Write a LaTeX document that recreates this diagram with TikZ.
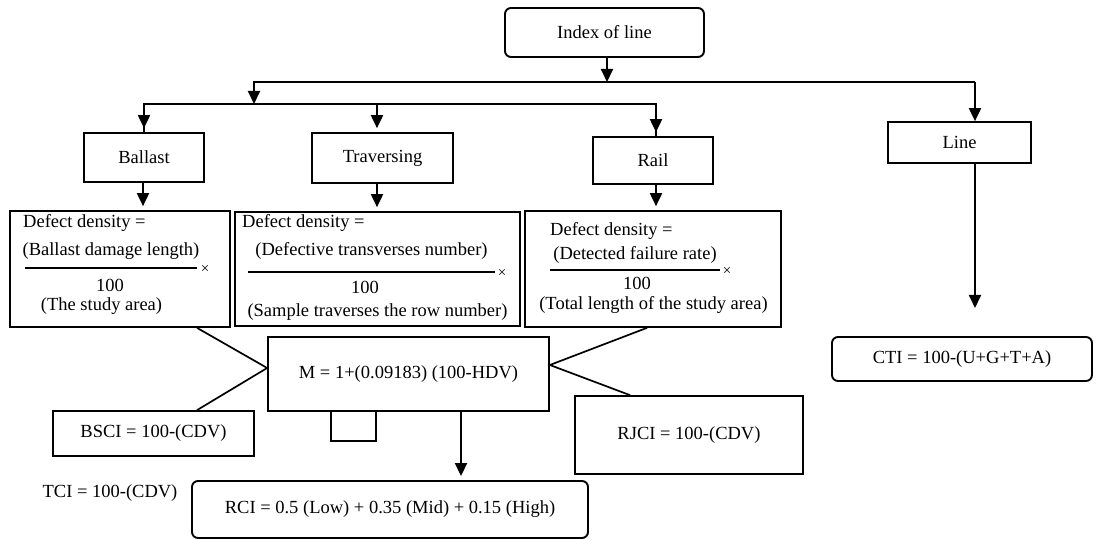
\documentclass[tikz,border=0pt]{standalone}
\usepackage{fontspec}
\setmainfont{Liberation Serif}
\usetikzlibrary{arrows.meta}
\begin{document}
\begin{tikzpicture}[x=1pt,y=-1pt,
  every node/.style={font=\fontsize{18.5}{22}\selectfont, inner sep=0pt},
  box/.style={draw, line width=1.7pt, rectangle},
  rbox/.style={box, line width=1.9pt, rounded corners=6pt},
  arr/.style={line width=1.9pt, -{Triangle[length=13pt,width=12pt]}},
  ln/.style={line width=1.9pt},
  conn/.style={line width=1.7pt},
  times/.style={font=\fontsize{15}{15}\selectfont}
]
\useasboundingbox (0,0) rectangle (1096,540);

% top level
\node[rbox, minimum width=199pt, minimum height=49pt] (idx) at (604.5,32.5) {Index of line};
\node[box, minimum width=120pt, minimum height=49pt] (bal) at (144,157.5) {Ballast};
\node[box, minimum width=141pt, minimum height=50pt] (trav) at (382.5,158) {Traversing};
\node[box, minimum width=120pt, minimum height=47pt] (rail) at (653,160.5) {Rail};
\node[box, minimum width=143pt, minimum height=41pt] (line) at (959.5,142.5) {Line};

\coordinate (j1) at (607,82);
\coordinate (j2) at (254,104);
\coordinate (h2m) at (377,104);
\coordinate (h1r) at (975,82);
\coordinate (ltip) at (975,308);

\draw[arr] (idx.south -| j1) -- (j1);
\draw[ln] (j1) -- (h1r);
\draw[arr] (j1) -| (j2);
\draw[arr] (h1r) -- (line.north -| h1r);
\draw[ln] (j2) -| (bal.north);
\draw[ln] (j2) -| ([xshift=3pt]rail.north);
\draw[arr, shorten >=4pt] (bal.north |- j2) -- (bal.north);
\draw[arr, shorten >=4pt] (h2m) -- (trav.north -| h2m);
\draw[arr, shorten >=4pt] ([xshift=3pt]rail.north |- j2) -- ([xshift=3pt]rail.north);

% defect boxes
\node[box, minimum width=220pt, minimum height=116pt] (box1) at (120,269) {};
\node[box, minimum width=285pt, minimum height=114pt] (box2) at (377.5,269) {};
\node[box, minimum width=256pt, minimum height=116pt] (box3) at (653,269) {};

\draw[arr, shorten >=4pt] ([xshift=-1pt]bal.south) -- ([xshift=-1pt]bal.south |- box1.north);
\draw[arr, shorten >=4pt] (trav.south -| h2m) -- (h2m |- box2.north);
\draw[arr, shorten >=4pt] ([xshift=3pt]rail.south) -- ([xshift=3pt]rail.south |- box3.north);
\draw[arr] (line.south -| ltip) -- (ltip);

% box1 text
\node[anchor=west] (d1a) at (23,223) {Defect density =};
\node (d1n) at (111,251) {(Ballast damage length)};
\draw[conn] (25,268) -- (197,268);
\node[times] (d1x) at (205,269) {×};
\node (d1d) at (110,285) {100};
\node (d1s) at (101.5,306) {(The study area)};

% box2 text
\node[anchor=west] (d2a) at (242,223) {Defect density =};
\node (d2n) at (371.5,251) {(Defective transverses number)};
\draw[conn] (248,272) -- (495,272);
\node[times] (d2x) at (502,273) {×};
\node (d2d) at (365,287) {100};
\node (d2s) at (377.5,312) {(Sample traverses the row number)};

% box3 text
\node[anchor=west] (d3a) at (550,231) {Defect density =};
\node (d3n) at (635,255) {(Detected failure rate)};
\draw[conn] (550,270) -- (720,270);
\node[times] (d3x) at (727,271) {×};
\node (d3d) at (637,283) {100};
\node (d3s) at (653.5,305) {(Total length of the study area)};

% lower part
\node[box, minimum width=281pt, minimum height=74pt] (M) at (408.5,374) {M = 1+(0.09183) (100-HDV)};
\node[box, minimum width=201pt, minimum height=45pt] (bsci) at (153.5,433.5) {BSCI = 100-(CDV)};
\node[box, minimum width=228pt, minimum height=78pt] (rjci) at (689,435) {RJCI = 100-(CDV)};
\node[rbox, minimum width=396pt, minimum height=57pt] (rci) at (390,509.5) {RCI = 0.5 (Low) + 0.35 (Mid) + 0.15 (High)};
\node[rbox, minimum width=260pt, minimum height=44pt] (cti) at (962,359) {CTI = 100-(U+G+T+A)};
\node (tci) at (110,493) {TCI = 100-(CDV)};

\draw[conn] ([xshift=77pt]box1.south) -- ([yshift=6pt]M.west) -- ([xshift=43.5pt]bsci.north);
\draw[conn] ([xshift=-6pt]box3.south) -- ([yshift=9pt]M.east) -- ([xshift=-59pt]rjci.north);
\draw[conn] ([xshift=-77.5pt]M.south) -- ++(0,29) -- ++(45,0) -- ++(0,-29);
\draw[arr, shorten >=4pt] ([xshift=52.5pt]M.south) -- ([xshift=71pt]rci.north);
\end{tikzpicture}
\end{document}
